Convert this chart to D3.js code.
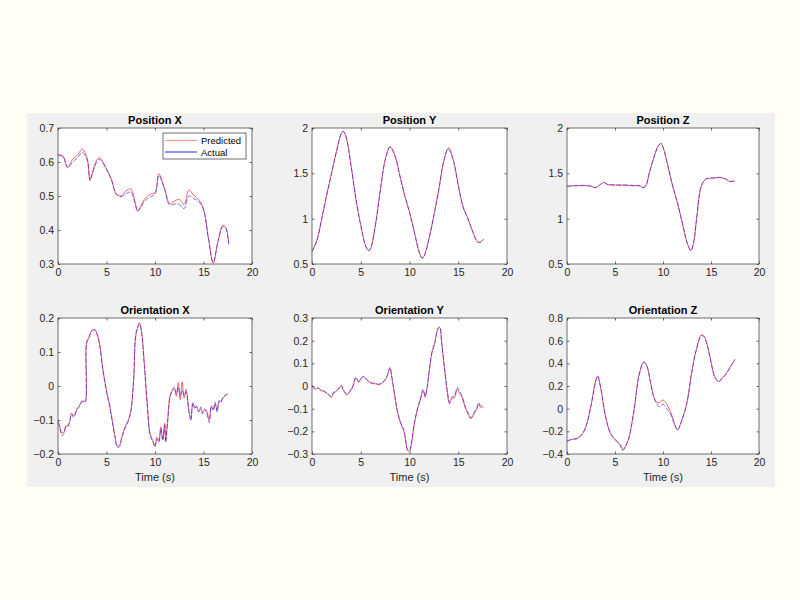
<!DOCTYPE html>
<html>
<head>
<meta charset="utf-8">
<script src="https://cdn.jsdelivr.net/npm/d3@7"></script>
<style>
  body { margin: 0; background: #fffdf4; }
  text { font-family: "Liberation Sans", Arial, sans-serif; }
</style>
</head>
<body>
<div id="chart"></div>
<script>
// ---- data ----
const titles = ["Position X", "Position Y", "Position Z", "Orientation X", "Orientation Y", "Orientation Z"];
const legendLabels = ["Predicted", "Actual"];
const xTicks = [0, 5, 10, 15, 20];
const yDomains = [[0.3, 0.7], [0.5, 2], [0.5, 2], [-0.2, 0.2], [-0.3, 0.3], [-0.4, 0.8]];
const yTicks = [
  [0.3, 0.4, 0.5, 0.6, 0.7],
  [0.5, 1, 1.5, 2],
  [0.5, 1, 1.5, 2],
  [-0.2, -0.1, 0, 0.1, 0.2],
  [-0.3, -0.2, -0.1, 0, 0.1, 0.2, 0.3],
  [-0.4, -0.2, 0, 0.2, 0.4, 0.6, 0.8]
];

const posXTime = [0,0.5,1,1.5,2,2.5,3,3.3,3.5,4,4.3,5,5.5,6,6.5,7,7.5,8,8.2,9,9.5,10,10.4,11,11.5,12,12.5,13,13.5,14,14.5,15,15.5,16,16.5,17,17.3,17.6];
const posXActual = [0.619,0.616,0.583,0.600,0.612,0.628,0.607,0.545,0.562,0.600,0.608,0.577,0.548,0.505,0.498,0.506,0.512,0.472,0.455,0.487,0.497,0.505,0.560,0.518,0.474,0.476,0.476,0.463,0.500,0.492,0.484,0.459,0.376,0.305,0.366,0.410,0.405,0.358];
const posXPredicted = [0.622,0.618,0.585,0.608,0.620,0.638,0.612,0.548,0.565,0.606,0.612,0.580,0.550,0.507,0.500,0.515,0.521,0.476,0.457,0.494,0.505,0.510,0.565,0.522,0.478,0.485,0.490,0.475,0.518,0.502,0.490,0.462,0.378,0.302,0.368,0.414,0.408,0.360];

const posYTime = [0,0.5,1,1.5,2,2.5,3,3.2,3.5,4,4.5,5,5.5,5.8,6,6.5,7,7.5,8,8.5,9,9.5,10,10.5,11,11.3,11.5,12,12.5,13,13.5,14,14.5,15,15.5,16,16.5,17,17.3,17.6];
const posYActual = [0.636,0.758,1.0,1.255,1.495,1.735,1.937,1.963,1.90,1.587,1.22,0.924,0.70,0.647,0.666,0.924,1.31,1.642,1.79,1.698,1.476,1.255,1.071,0.85,0.629,0.562,0.585,0.776,1.034,1.31,1.624,1.771,1.642,1.366,1.126,0.997,0.85,0.74,0.74,0.77];
const posYPredicted = [0.64,0.76,1.0,1.26,1.50,1.74,1.94,1.965,1.90,1.59,1.22,0.93,0.70,0.65,0.67,0.93,1.31,1.645,1.795,1.70,1.48,1.26,1.075,0.85,0.63,0.565,0.59,0.78,1.04,1.32,1.63,1.78,1.645,1.37,1.13,1.0,0.855,0.745,0.745,0.775];

const posZTime = [0,1,2,2.5,3,3.5,3.8,4.2,5,6,7,7.5,8,8.3,8.5,9,9.5,9.8,10,10.5,11,11.5,12,12.5,12.9,13.2,13.5,14,14.5,15,16,16.5,17,17.5];
const posZActual = [1.359,1.366,1.366,1.36,1.344,1.38,1.403,1.38,1.373,1.373,1.366,1.366,1.344,1.384,1.477,1.66,1.80,1.827,1.79,1.587,1.366,1.18,0.96,0.74,0.647,0.74,1.0,1.366,1.44,1.447,1.455,1.44,1.41,1.42];
const posZPredicted = [1.356,1.362,1.364,1.356,1.342,1.378,1.40,1.376,1.37,1.368,1.362,1.362,1.34,1.38,1.47,1.655,1.80,1.83,1.79,1.585,1.36,1.175,0.955,0.74,0.65,0.745,1.0,1.36,1.438,1.445,1.452,1.438,1.408,1.418];

const oriXTime = [0,0.2,0.4,0.6,0.8,1.0,1.2,1.4,1.6,1.8,2.0,2.2,2.4,2.6,2.8,2.95,3.2,3.5,3.8,4.0,4.3,4.6,5.0,5.3,5.6,5.9,6.1,6.3,6.6,6.9,7.2,7.5,7.8,8.0,8.2,8.4,8.6,8.9,9.2,9.5,9.8,10.0,10.2,10.4,10.6,10.8,11.0,11.1,11.3,11.6,12.0,12.2,12.4,12.6,12.8,13.0,13.2,13.5,13.7,13.9,14.1,14.3,14.5,14.7,14.9,15.1,15.3,15.6,15.8,16.0,16.2,16.4,16.6,16.8,17.0,17.2,17.5];
const oriXActual = [-0.107,-0.126,-0.146,-0.141,-0.121,-0.121,-0.107,-0.082,-0.092,-0.082,-0.067,-0.062,-0.048,-0.046,-0.048,0.129,0.144,0.161,0.164,0.154,0.119,0.051,-0.018,-0.058,-0.107,-0.156,-0.18,-0.18,-0.151,-0.126,-0.107,-0.077,0.021,0.149,0.173,0.183,0.159,0.06,-0.058,-0.146,-0.166,-0.18,-0.156,-0.166,-0.126,-0.161,-0.116,-0.166,-0.107,-0.028,-0.003,-0.023,-0.003,-0.028,-0.013,-0.028,-0.018,-0.077,-0.102,-0.048,-0.067,-0.058,-0.077,-0.062,-0.082,-0.067,-0.077,-0.107,-0.058,-0.072,-0.048,-0.077,-0.043,-0.048,-0.033,-0.028,-0.023];
const oriXPredicted = [-0.100,-0.120,-0.138,-0.136,-0.118,-0.116,-0.104,-0.080,-0.088,-0.078,-0.064,-0.058,-0.046,-0.044,-0.046,0.124,0.142,0.164,0.166,0.156,0.124,0.056,-0.012,-0.052,-0.100,-0.150,-0.176,-0.176,-0.148,-0.120,-0.104,-0.074,0.016,0.142,0.170,0.186,0.164,0.066,-0.052,-0.140,-0.162,-0.176,-0.150,-0.160,-0.120,-0.156,-0.110,-0.160,-0.102,-0.024,-0.008,-0.030,0.010,-0.040,0.012,-0.035,-0.010,-0.072,-0.096,-0.054,-0.062,-0.064,-0.072,-0.068,-0.076,-0.072,-0.072,-0.100,-0.062,-0.068,-0.052,-0.072,-0.048,-0.044,-0.036,-0.030,-0.024];

const oriYTime = [0,0.3,0.6,0.9,1.2,1.5,1.8,2.0,2.2,2.5,2.8,3.0,3.2,3.4,3.6,3.9,4.2,4.5,4.8,5.0,5.3,5.6,5.9,6.2,6.5,6.8,7.1,7.4,7.7,8.0,8.2,8.5,8.8,9.1,9.4,9.6,9.8,10.0,10.2,10.5,10.8,11.1,11.4,11.6,11.8,12.0,12.3,12.6,12.9,13.1,13.3,13.6,13.9,14.1,14.3,14.6,14.9,15.1,15.4,15.7,16.0,16.3,16.6,16.9,17.1,17.3,17.6];
const oriYActual = [0.004,-0.011,-0.007,-0.017,-0.021,-0.029,-0.041,-0.047,-0.029,-0.021,-0.007,0.004,-0.014,-0.029,-0.036,-0.021,0.001,0.038,0.019,0.033,0.042,0.030,0.019,0.013,0.013,0.008,0.013,0.023,0.045,0.082,0.038,-0.044,-0.118,-0.162,-0.192,-0.236,-0.281,-0.284,-0.251,-0.162,-0.103,-0.059,-0.014,-0.044,-0.007,0.060,0.149,0.193,0.253,0.260,0.193,0.075,-0.029,-0.073,-0.051,-0.044,-0.007,-0.021,-0.044,-0.088,-0.118,-0.140,-0.118,-0.096,-0.073,-0.088,-0.085];
const oriYPredicted = [0.0,-0.014,-0.010,-0.020,-0.024,-0.032,-0.044,-0.050,-0.032,-0.024,-0.010,0.0,-0.018,-0.032,-0.040,-0.024,-0.002,0.034,0.016,0.030,0.040,0.028,0.016,0.010,0.010,0.005,0.010,0.020,0.042,0.078,0.034,-0.048,-0.122,-0.166,-0.196,-0.240,-0.284,-0.288,-0.254,-0.166,-0.106,-0.062,-0.020,-0.050,-0.012,0.056,0.146,0.190,0.250,0.258,0.190,0.072,-0.034,-0.078,-0.058,-0.052,-0.014,-0.030,-0.052,-0.094,-0.124,-0.144,-0.124,-0.104,-0.082,-0.094,-0.090];

const oriZTime = [0,0.5,1.0,1.5,2.0,2.5,3.0,3.2,3.5,4.0,4.5,5.0,5.5,5.8,6.2,6.5,7.0,7.5,8.0,8.3,8.7,9.0,9.3,9.6,10.0,10.4,10.8,11.2,11.5,12.0,12.5,13.0,13.5,14.0,14.3,14.7,15.0,15.4,15.8,16.1,16.5,17.0,17.5];
const oriZActual = [-0.287,-0.273,-0.267,-0.237,-0.154,0.024,0.246,0.284,0.187,-0.065,-0.213,-0.273,-0.317,-0.367,-0.317,-0.243,-0.006,0.290,0.409,0.379,0.231,0.113,0.053,0.018,0.039,0.000,-0.050,-0.139,-0.190,-0.095,0.053,0.320,0.527,0.646,0.631,0.527,0.409,0.276,0.237,0.261,0.296,0.364,0.432];
const oriZPredicted = [-0.284,-0.270,-0.262,-0.232,-0.150,0.028,0.250,0.288,0.190,-0.060,-0.210,-0.270,-0.314,-0.362,-0.312,-0.238,0.000,0.296,0.414,0.384,0.236,0.118,0.060,0.053,0.077,0.039,-0.030,-0.132,-0.186,-0.090,0.058,0.326,0.532,0.652,0.636,0.532,0.414,0.280,0.240,0.265,0.300,0.368,0.436];

const times = [posXTime, posYTime, posZTime, oriXTime, oriYTime, oriZTime];
const actuals = [posXActual, posYActual, posZActual, oriXActual, oriYActual, oriZActual];
const predicteds = [posXPredicted, posYPredicted, posZPredicted, oriXPredicted, oriYPredicted, oriZPredicted];

// ---- layout ----
const colLeft = [58, 312, 567];
const colWidth = [194, 195, 192];
const rowTop = [128, 318];
const plotH = 136;

const svg = d3.select("#chart").append("svg")
  .attr("width", 800)
  .attr("height", 600);

svg.append("rect").attr("width", 800).attr("height", 600).attr("fill", "#fffdf4");
svg.append("rect")
  .attr("x", 27).attr("y", 113)
  .attr("width", 748).attr("height", 374)
  .attr("fill", "#f0f0f0");

const fmt = d => d3.format("")(d);

titles.forEach(function(title, i) {
  let col = i % 3, row = Math.floor(i / 3);
  let w = colWidth[col], h = plotH;
  let g = svg.append("g")
    .attr("transform", `translate(${colLeft[col]}, ${rowTop[row]})`);

  let x = d3.scaleLinear().domain([0, 20]).range([0, w]);
  let y = d3.scaleLinear().domain(yDomains[i]).range([h, 0]);

  g.append("rect").attr("width", w).attr("height", h).attr("fill", "white");

  let data = times[i].map((t, k) => ({t: t, a: actuals[i][k], p: predicteds[i][k]}));

  let lineA = d3.line().x(d => x(d.t)).y(d => y(d.a)).curve(d3.curveCatmullRom.alpha(0.5));
  let lineP = d3.line().x(d => x(d.t)).y(d => y(d.p)).curve(d3.curveCatmullRom.alpha(0.5));

  g.append("path").datum(data)
    .attr("d", lineP)
    .attr("fill", "none")
    .attr("stroke", "#ff0000")
    .attr("stroke-opacity", 0.6)
    .attr("stroke-width", 1);

  g.append("path").datum(data)
    .attr("d", lineA)
    .attr("fill", "none")
    .attr("stroke", "#0000ff")
    .attr("stroke-opacity", 0.6)
    .attr("stroke-width", 0.9)
    .attr("stroke-dasharray", "5,1.5");

  // axes, ticks pointing inward on all four sides
  g.append("g").attr("transform", `translate(0, ${h})`)
    .call(d3.axisBottom(x).tickValues(xTicks).tickSizeInner(-2.5).tickSizeOuter(0).tickPadding(5).tickFormat(fmt));
  g.append("g")
    .call(d3.axisLeft(y).tickValues(yTicks[i]).tickSizeInner(-2.5).tickSizeOuter(0).tickPadding(4).tickFormat(fmt));
  g.append("g")
    .call(d3.axisTop(x).tickValues(xTicks).tickSizeInner(-2.5).tickSizeOuter(0).tickFormat(""));
  g.append("g").attr("transform", `translate(${w}, 0)`)
    .call(d3.axisRight(y).tickValues(yTicks[i]).tickSizeInner(-2.5).tickSizeOuter(0).tickFormat(""));

  g.selectAll(".domain").remove();
  g.selectAll(".tick line").attr("stroke", "#404040").attr("stroke-width", 0.8);
  g.selectAll(".tick text")
    .attr("fill", "#262626")
    .style("font-size", "10.5px")
    .style("font-family", "'Liberation Sans', Arial, sans-serif");

  g.append("rect").attr("width", w).attr("height", h)
    .attr("fill", "none")
    .attr("stroke", "#4d4d4d")
    .attr("stroke-width", 0.8);

  g.append("text")
    .attr("x", w / 2).attr("y", -4)
    .attr("text-anchor", "middle")
    .attr("font-weight", "bold")
    .attr("font-size", "11px")
    .attr("fill", "#000")
    .text(title);

  if (row === 1) {
    g.append("text")
      .attr("x", w / 2).attr("y", h + 27)
      .attr("text-anchor", "middle")
      .attr("font-size", "11px")
      .attr("fill", "#262626")
      .text("Time (s)");
  }

  if (i === 0) {
    let lg = g.append("g").attr("transform", `translate(${w - 89}, 5)`);
    lg.append("rect")
      .attr("width", 83).attr("height", 26)
      .attr("fill", "white")
      .attr("stroke", "#4d4d4d")
      .attr("stroke-width", 0.8);
    let legendColors = ["#ff0000", "#0000ff"];
    let legendOpacity = [0.4, 0.7];
    legendLabels.forEach(function(lab, k) {
      let yy = 7.5 + k * 11.5;
      lg.append("line")
        .attr("x1", 2).attr("x2", 34)
        .attr("y1", yy).attr("y2", yy)
        .attr("stroke", legendColors[k])
        .attr("stroke-opacity", legendOpacity[k])
        .attr("stroke-width", 1.2);
      lg.append("text")
        .attr("x", 38).attr("y", yy + 3.5)
        .attr("font-size", "9.5px")
        .attr("fill", "#000")
        .text(lab);
    });
  }
});
</script>
</body>
</html>
